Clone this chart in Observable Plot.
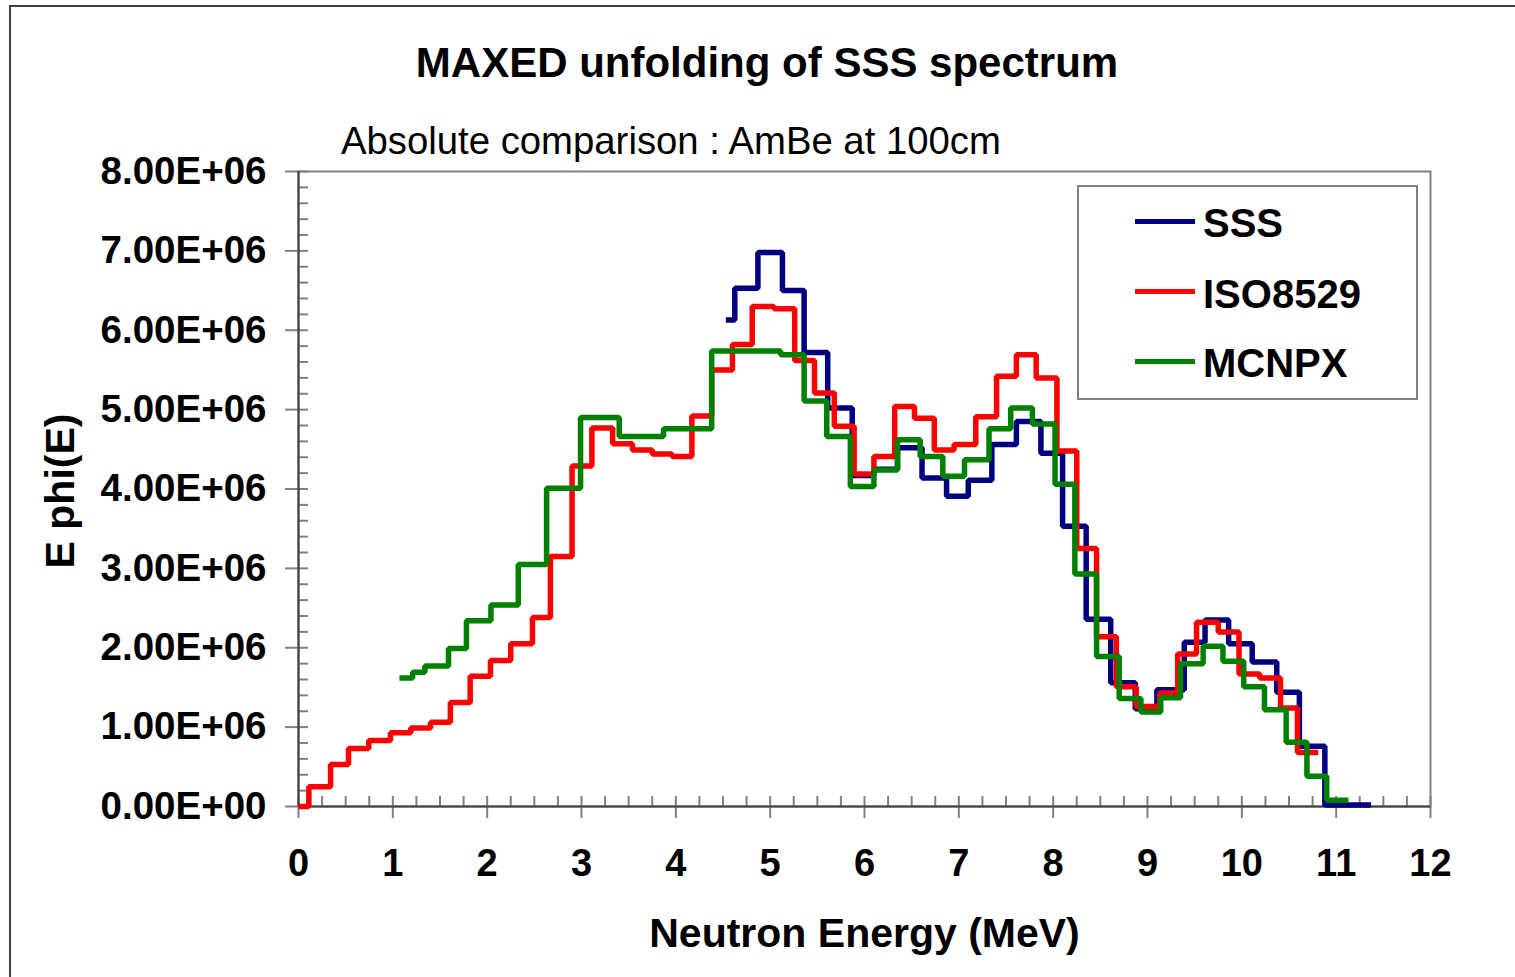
<!DOCTYPE html>
<html>
<head>
<meta charset="utf-8">
<script src="https://cdn.jsdelivr.net/npm/d3@7"></script>
<script src="https://cdn.jsdelivr.net/npm/@observablehq/plot@0.6"></script>
<style>
  html, body { margin: 0; padding: 0; background: #fff; overflow: hidden; }
  #wrap { position: relative; width: 1515px; height: 977px; font-family: "Liberation Sans", Arial, sans-serif; color: #000; }
  #outer { position: absolute; left: 9px; top: 5px; width: 1530px; height: 1000px; border: 2px solid #404040; box-sizing: border-box; }
  #chart { position: absolute; left: 0; top: 0; }
  .t { position: absolute; white-space: nowrap; line-height: 1; }
  #title { left: 767px; top: 42px; font-size: 42px; font-weight: bold; transform: translateX(-50%); }
  #subtitle { left: 341px; top: 122px; font-size: 38.3px; font-weight: normal; }
  #legend { position: absolute; left: 1077px; top: 185px; width: 341px; height: 215px; border: 2px solid #808080; box-sizing: border-box; background: #fff; }
  .sw { position: absolute; width: 60px; height: 5px; }
  .lt { position: absolute; font-size: 40px; font-weight: bold; line-height: 1; white-space: nowrap; }
</style>
</head>
<body>
<div id="wrap">
  <div id="outer"></div>
  <div id="chart"></div>
  <div class="t" id="title">MAXED unfolding of SSS spectrum</div>
  <div class="t" id="subtitle">Absolute comparison : AmBe at 100cm</div>
  <div id="legend"></div>
</div>
<script>
// Series names and colours
const seriesNames = ["SSS", "ISO8529", "MCNPX"];
const seriesColors = ["#000080", "#ff0000", "#008000"];

// Bin edges (MeV) and E·phi(E) values (in units of 1E+06) for each series
const sssEdges = [4.53, 4.625, 4.87, 5.13, 5.36, 5.61, 5.87, 6.10, 6.35, 6.61, 6.87, 7.10, 7.35, 7.61, 7.87, 8.10, 8.35, 8.61, 8.87, 9.10, 9.39, 9.61, 9.86, 10.11, 10.37, 10.61, 10.88, 11.37];
const sssValues = [6.13, 6.53, 6.98, 6.50, 5.72, 5.02, 4.17, 4.25, 4.52, 4.14, 3.91, 4.11, 4.56, 4.85, 4.45, 3.53, 2.36, 1.56, 1.23, 1.47, 2.07, 2.35, 2.05, 1.82, 1.44, 0.76, 0.02];

const isoEdges = [0, 0.11, 0.34, 0.53, 0.745, 0.975, 1.19, 1.40, 1.61, 1.82, 2.035, 2.25, 2.48, 2.67, 2.90, 3.11, 3.33, 3.54, 3.75, 3.96, 4.17, 4.38, 4.60, 4.81, 5.04, 5.26, 5.47, 5.68, 5.89, 6.10, 6.32, 6.53, 6.74, 6.95, 7.18, 7.40, 7.61, 7.82, 8.04, 8.25, 8.46, 8.67, 8.88, 9.13, 9.32, 9.52, 9.75, 9.97, 10.19, 10.41, 10.59, 10.81];
const isoValues = [0, 0.25, 0.53, 0.73, 0.83, 0.93, 0.99, 1.06, 1.31, 1.64, 1.84, 2.05, 2.38, 3.15, 4.29, 4.77, 4.57, 4.49, 4.44, 4.41, 4.92, 5.50, 5.82, 6.30, 6.27, 5.62, 5.21, 4.79, 4.19, 4.41, 5.04, 4.89, 4.49, 4.56, 4.91, 5.42, 5.69, 5.40, 4.48, 3.25, 2.14, 1.51, 1.26, 1.43, 1.92, 2.32, 2.20, 1.67, 1.62, 1.24, 0.68];

const mcnpxEdges = [1.07, 1.21, 1.34, 1.59, 1.78, 2.04, 2.33, 2.63, 2.99, 3.40, 3.87, 4.38, 5.11, 5.36, 5.60, 5.85, 6.10, 6.35, 6.59, 6.83, 7.06, 7.32, 7.55, 7.78, 8.02, 8.23, 8.46, 8.70, 8.93, 9.14, 9.35, 9.59, 9.80, 10.02, 10.24, 10.47, 10.69, 10.90, 11.13];
const mcnpxValues = [1.62, 1.69, 1.77, 1.99, 2.34, 2.54, 3.05, 4.01, 4.90, 4.66, 4.76, 5.74, 5.69, 5.11, 4.66, 4.03, 4.24, 4.62, 4.41, 4.16, 4.37, 4.76, 5.02, 4.82, 4.06, 2.93, 1.89, 1.36, 1.19, 1.37, 1.80, 2.02, 1.83, 1.51, 1.22, 0.81, 0.38, 0.08];

// Axis ticks
const xTicks = [0, 1, 2, 3, 4, 5, 6, 7, 8, 9, 10, 11, 12];
const xMinorTicks = d3.range(0, 12.001, 0.25);
const yTicks = [0, 1e6, 2e6, 3e6, 4e6, 5e6, 6e6, 7e6, 8e6];
const yMinorTicks = d3.range(0, 8e6 + 1, 2e5);
const UNIT = 1e6;

function stepPoints(name, edges, values) {
  const pts = values.map((v, i) => ({series: name, x: edges[i], y: v * UNIT}));
  pts.push({series: name, x: edges[values.length], y: values[values.length - 1] * UNIT});
  return pts;
}
const data = [
  ...stepPoints("SSS", sssEdges, sssValues),
  ...stepPoints("ISO8529", isoEdges, isoValues),
  ...stepPoints("MCNPX", mcnpxEdges, mcnpxValues)
];

const sci = d => d.toExponential(2).replace("e", "E").replace(/E([+-])(\d)$/, "E$10$2");
const FONT = '"Liberation Sans", Arial, sans-serif';

const W = 1515, H = 977;
const mL = 298, mR = 85, mT = 171, mB = 171;
const innerW = W - mL - mR, innerH = H - mT - mB;

const chart = Plot.plot({
  width: W, height: H,
  marginLeft: mL, marginRight: mR, marginTop: mT, marginBottom: mB,
  x: {domain: [0, 12]},
  y: {domain: [0, 8e6]},
  color: {domain: seriesNames, range: seriesColors},
  style: {background: "transparent", fontFamily: FONT, fontWeight: "bold", fontSize: "38px", color: "#000", overflow: "visible"},
  marks: [
    Plot.frame({stroke: "#808080", strokeWidth: 2}),
    // minor inside ticks
    Plot.tickY(yMinorTicks, {y: d => d, stroke: "#808080", strokeWidth: 2, insetRight: innerW - 10}),
    Plot.tickX(xMinorTicks, {x: d => d, stroke: "#808080", strokeWidth: 2, insetTop: innerH - 10}),
    Plot.axisY({ticks: yTicks, tickSize: 13, tickPadding: 19, tickFormat: sci, fontSize: 38.5, fontWeight: "bold", stroke: "#808080", strokeWidth: 2, label: null}),
    Plot.axisX({ticks: xTicks, tickSize: 12, tickPadding: 31, tickFormat: d => String(d), fontSize: 38, fontWeight: "bold", stroke: "#808080", strokeWidth: 2, label: null}),
    Plot.ruleX([0], {stroke: "#404040", strokeWidth: 2}),
    Plot.ruleY([0], {stroke: "#404040", strokeWidth: 2}),
    Plot.line(data, {x: "x", y: "y", z: "series", stroke: "series", curve: "step-after", strokeWidth: 5.5, strokeLinejoin: "miter", strokeLinecap: "butt"}),
    Plot.text(["Neutron Energy (MeV)"], {text: d => d, frameAnchor: "bottom", dy: 140, lineAnchor: "bottom", textAnchor: "middle", fontSize: 41, fontWeight: "bold", fill: "#000"}),
    Plot.text(["E phi(E)"], {text: d => d, frameAnchor: "left", dx: -225, dy: 2, rotate: -90, lineAnchor: "bottom", textAnchor: "middle", fontSize: 41, fontWeight: "bold", fill: "#000"})
  ]
});
document.getElementById("chart").appendChild(chart);

// Legend
const legend = document.getElementById("legend");
const baselines = [236.7, 308.3, 377.3];
const lineY = [221.7, 291.7, 361.7];
seriesNames.forEach((name, i) => {
  const sw = document.createElement("div");
  sw.className = "sw";
  sw.style.background = seriesColors[i];
  sw.style.left = (1135 - 1077 - 2) + "px";
  sw.style.top = (lineY[i] - 2.5 - 185 - 2) + "px";
  legend.appendChild(sw);
  const lt = document.createElement("div");
  lt.className = "lt";
  lt.textContent = name;
  lt.style.left = (1203 - 1077 - 2) + "px";
  lt.style.top = (baselines[i] - 0.8465 * 40 - 185 - 2) + "px";
  legend.appendChild(lt);
});
</script>
</body>
</html>
